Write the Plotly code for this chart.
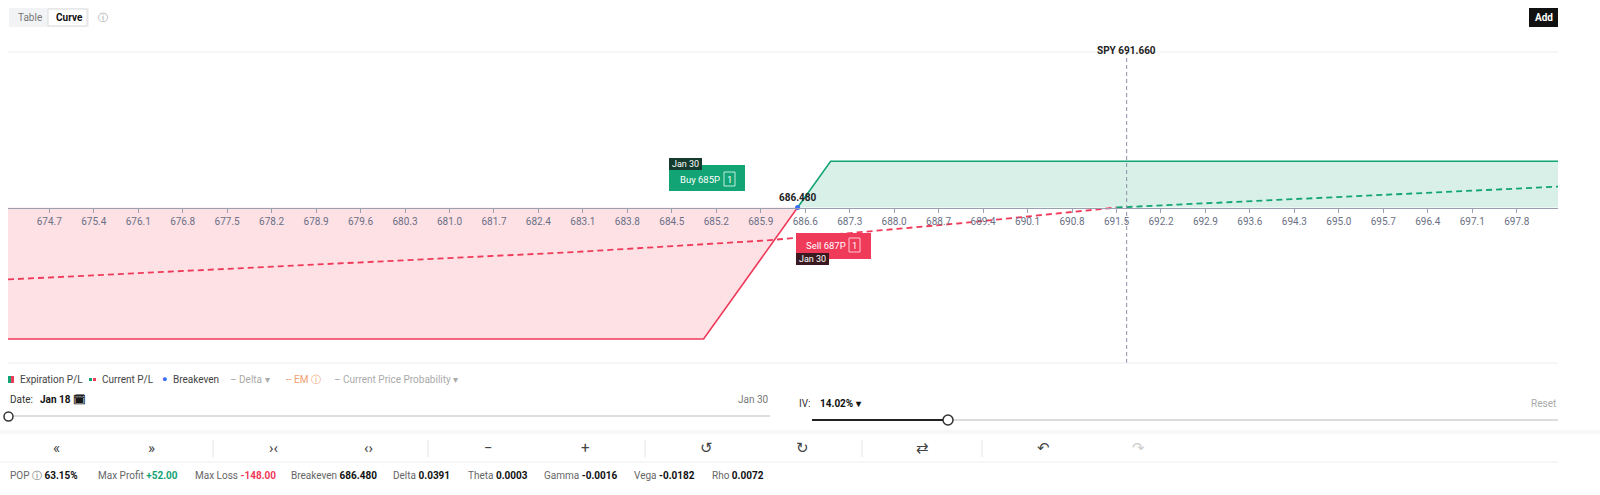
import plotly.graph_objects as go

W, H = 1600, 495

# ── Data ──────────────────────────────────────────────
X_RANGE = [674.05, 698.45]
Y_RANGE = [-175, 175]
EXP_X = [674.05, 685.0, 686.48, 687.0, 698.45]
EXP_Y = [-148.0, -148.0, 0.0, 52.0, 52.0]
CUR_X = [674.05, 677.0, 680.0, 683.0, 686.0, 689.0, 691.5, 694.0, 696.0, 698.45]
CUR_Y = [-81.0, -71.0, -61.0, -50.0, -37.0, -18.0, 0.0, 8.5, 15.0, 23.5]
TICKS = [674.7, 675.4, 676.1, 676.8, 677.5, 678.2, 678.9, 679.6, 680.3, 681.0, 681.7,
         682.4, 683.1, 683.8, 684.5, 685.2, 685.9, 686.6, 687.3, 688.0, 688.7, 689.4,
         690.1, 690.8, 691.5, 692.2, 692.9, 693.6, 694.3, 695.0, 695.7, 696.4, 697.1, 697.8]
SPOT = 691.66
BREAKEVEN = 686.48

GREEN = "#12a474"
RED = "#f03a5a"
FONT = "Roboto"

def px(x):
    return x / W

def py(y):
    return 1 - y / H

fig = go.Figure()

# fills
be = EXP_X.index(BREAKEVEN)
fig.add_trace(go.Scatter(x=EXP_X[:be + 1], y=EXP_Y[:be + 1], mode="lines",
                         line=dict(color=RED, width=1.6), fill="tozeroy",
                         fillcolor="rgba(245,90,110,0.18)", hoverinfo="skip"))
fig.add_trace(go.Scatter(x=EXP_X[be:], y=EXP_Y[be:], mode="lines",
                         line=dict(color=GREEN, width=1.6), fill="tozeroy",
                         fillcolor="rgba(18,164,116,0.16)", hoverinfo="skip"))
# current P/L dashed, split at zero
neg = [i for i, v in enumerate(CUR_Y) if v <= 0]
pos = [i for i, v in enumerate(CUR_Y) if v >= 0]
fig.add_trace(go.Scatter(x=[CUR_X[i] for i in neg], y=[CUR_Y[i] for i in neg], mode="lines",
                         line=dict(color=RED, width=1.8, dash="6px,4px"), hoverinfo="skip"))
fig.add_trace(go.Scatter(x=[CUR_X[i] for i in pos], y=[CUR_Y[i] for i in pos], mode="lines",
                         line=dict(color=GREEN, width=1.8, dash="6px,4px"), hoverinfo="skip"))
# breakeven dot
fig.add_trace(go.Scatter(x=[BREAKEVEN], y=[0], mode="markers+text", text=[f"{BREAKEVEN:.3f}"],
                         textposition="top center",
                         textfont=dict(size=10, color="#222", family=FONT, weight="bold"),
                         marker=dict(size=5, color="#3b6cf6"), hoverinfo="skip"))

# spot line
fig.add_shape(type="line", x0=SPOT, x1=SPOT, yref="paper", y0=py(363), y1=py(52),
              line=dict(color="#8a90a8", width=1, dash="4px,3px"))
fig.add_annotation(x=SPOT, y=py(43), yref="paper", text=f"SPY {SPOT:.3f}", showarrow=False,
                   font=dict(size=10, color="#222", family=FONT, weight="bold"))

shapes = []
ann = []

def rect(x0, y0, x1, y1, fill, line="rgba(0,0,0,0)"):
    shapes.append(dict(type="rect", xref="paper", yref="paper", x0=px(x0), x1=px(x1),
                       y0=py(y1), y1=py(y0), fillcolor=fill, line=dict(color=line, width=1)))

def hline(x0, x1, y, color="#ececec", width=1):
    shapes.append(dict(type="line", xref="paper", yref="paper", x0=px(x0), x1=px(x1),
                       y0=py(y), y1=py(y), line=dict(color=color, width=width)))

def vline(x, y0, y1, color="#e4e4e4"):
    shapes.append(dict(type="line", xref="paper", yref="paper", x0=px(x), x1=px(x),
                       y0=py(y0), y1=py(y1), line=dict(color=color, width=1)))

def text(x, y, s, size=10, color="#333", anchor="left", bold=False):
    ann.append(dict(xref="paper", yref="paper", x=px(x), y=py(y), text=s, showarrow=False,
                    xanchor=anchor, yanchor="middle",
                    font=dict(size=size, color=color, family=FONT,
                              weight="bold" if bold else "normal")))

# header
rect(9, 8, 89, 27, "#f2f3f5")
rect(48, 9, 87, 26, "#ffffff", "#dcdcdc")
text(16, 17, "Table", 10, "#777")
text(54, 17, "Curve", 10, "#111", bold=True)
text(96, 17, "ⓘ", 10, "#999")
rect(1529, 8, 1558, 27, "#111")
text(1543.5, 17, "Add", 10, "#fff", "center", True)
hline(8, 1558, 52, "#eeeeee")
hline(8, 1558, 363, "#eeeeee")

# tooltips
rect(669, 165, 745, 191, GREEN)
rect(669, 158, 702, 170, "#143b2e")
text(685.5, 164, "Jan 30", 9, "#fff", "center")
text(678, 179, "Buy 685P", 9.5, "#fff")
rect(724, 172, 735, 186, "rgba(0,0,0,0)", "#bfeedd")
text(729.5, 179, "1", 9.5, "#fff", "center")
rect(796, 233, 871, 259, RED)
rect(796, 253, 829, 265, "#3a1a20")
text(812.5, 259, "Jan 30", 9, "#fff", "center")
text(804, 245, "Sell 687P", 9.5, "#fff")
rect(849, 238, 860, 252, "rgba(0,0,0,0)", "#ffc8d2")
text(854.5, 245, "1", 9.5, "#fff", "center")

# legend row
rect(8, 376, 11, 383, GREEN)
rect(11, 376, 14, 383, RED)
text(18, 379, "Expiration P/L", 10, "#444")
rect(89, 378, 92, 381, GREEN)
rect(93, 378, 96, 381, RED)
text(100, 379, "Current P/L", 10, "#444")
text(160, 379, "●", 9, "#3b6cf6")
text(171, 379, "Breakeven", 10, "#444")
text(228, 379, "– Delta ▾", 10, "#aaa")
text(284, 379, "-- EM ⓘ", 10, "#f0a070")
text(332, 379, "– Current Price Probability ▾", 10, "#aaa")

# date slider
text(8, 399, "Date:", 10, "#333")
text(38, 399, "Jan 18 🗓", 10, "#111", bold=True)
text(771, 399, "Jan 30", 10, "#777", "right")
hline(8, 770, 416, "#dddddd", 2)
shapes.append(dict(type="circle", xref="paper", yref="paper", x0=px(4), x1=px(13),
                   y0=py(421), y1=py(412), fillcolor="#fff", line=dict(color="#333", width=1.5)))

# IV slider
text(797, 403, "IV:", 10, "#333")
text(818, 403, "14.02% ▾", 10, "#111", bold=True)
text(1558, 403, "Reset", 10, "#aaa", "right")
hline(812, 1558, 420, "#dddddd", 2)
hline(812, 948, 420, "#222", 2)
shapes.append(dict(type="circle", xref="paper", yref="paper", x0=px(943), x1=px(953),
                   y0=py(425), y1=py(415), fillcolor="#fff", line=dict(color="#333", width=1.5)))

# toolbar
rect(0, 430, W, 434, "#f7f7f7")
hline(0, 1558, 462, "#eeeeee")
for xs, s in [(56, "«"), (151, "»"), (273, "›‹"), (368, "‹›"), (489, "−"), (585, "+"),
              (706, "↺"), (802, "↻"), (922, "⇄"), (1043, "↶"), (1138, "↷")]:
    text(xs, 448, s, 15, "#ccc" if s == "↷" else "#444", "center")
for xs in [213, 428, 645, 862, 982]:
    vline(xs, 440, 457)

# stats row
stats = [(8, "POP ⓘ ", "63.15%", "#111"), (96, "Max Profit ", "+52.00", GREEN),
         (193, "Max Loss ", "-148.00", RED), (289, "Breakeven ", "686.480", "#111"),
         (391, "Delta ", "0.0391", "#111"), (466, "Theta ", "0.0003", "#111"),
         (542, "Gamma ", "-0.0016", "#111"), (632, "Vega ", "-0.0182", "#111"),
         (710, "Rho ", "0.0072", "#111")]
for xs, lab, val, col in stats:
    text(xs, 475, f"<span style='color:#666'>{lab}</span><b style='color:{col}'>{val}</b>", 10)

fig.update_layout(
    width=W, height=H, margin=dict(l=0, r=0, t=0, b=0),
    paper_bgcolor="white", plot_bgcolor="white", showlegend=False,
    font=dict(family=FONT),
    xaxis=dict(domain=[px(8), px(1558)], range=X_RANGE, anchor="free",
               position=py(363) + (py(52) - py(363)) * 0.5,
               tickvals=TICKS, ticktext=[f"{t:.1f}" for t in TICKS],
               ticks="outside", ticklen=4, tickcolor="#9a9fb0", showline=True,
               linecolor="#9a9fb0", showgrid=False, zeroline=False,
               tickfont=dict(size=10, color="#6b7085")),
    yaxis=dict(domain=[py(363), py(52)], range=Y_RANGE, visible=False),
    shapes=list(fig.layout.shapes) + shapes,
    annotations=list(fig.layout.annotations) + ann,
)

fig.write_html("out.html", config={"displayModeBar": False},
               post_script="document.body.style.margin='0';document.body.style.overflow='hidden';")
